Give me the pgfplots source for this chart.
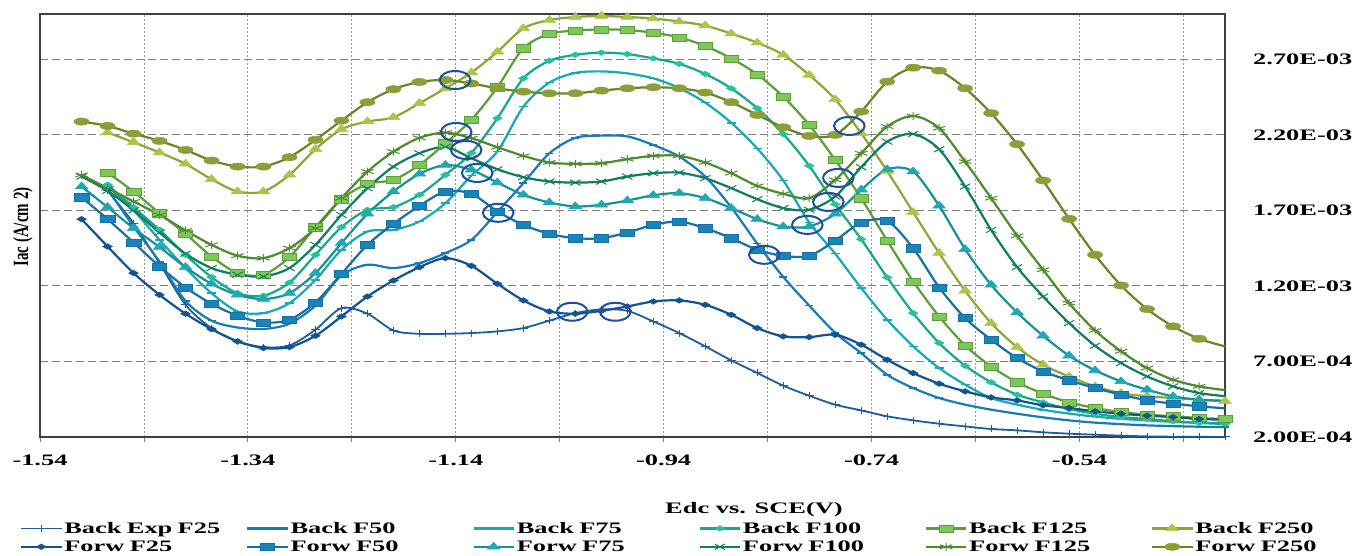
\documentclass[border=0pt]{standalone}
\usepackage{fontspec}
\setmainfont{Liberation Serif}[FakeStretch=1.65]
\newfontfamily\plainserif{Liberation Serif}
\usepackage{pgfplots}
\usepackage{pgfplotstable}
\pgfplotsset{compat=1.18}
\newcommand\lbl{\fontsize{16}{19}\selectfont\bfseries}
\definecolor{cBE}{HTML}{1F5C9E}
\definecolor{cB50}{HTML}{1A7AB5}
\definecolor{cB75}{HTML}{1AA8B8}
\definecolor{cB100}{HTML}{17A88A}
\definecolor{cB100m}{HTML}{22C49C}
\definecolor{cB125}{HTML}{5E9E3A}
\definecolor{cB125m}{HTML}{7CC95A}
\definecolor{cB250}{HTML}{8EA53A}
\definecolor{cB250m}{HTML}{A8C64A}
\definecolor{cF25}{HTML}{13538F}
\definecolor{cF50}{HTML}{176FA3}
\definecolor{cF50m}{HTML}{1784BB}
\definecolor{cF75}{HTML}{199098}
\definecolor{cF75m}{HTML}{1FA7B3}
\definecolor{cF100}{HTML}{0F7D5E}
\definecolor{cF125}{HTML}{4E8A2E}
\definecolor{cF250}{HTML}{6B8426}
\definecolor{cF250m}{HTML}{8C9E38}
\definecolor{cEll}{HTML}{1F4E9A}
\pgfplotstableread{
x BE B50 B75 B100 B125 B250 F25 F50 F75 F100 F125 F250
-1.500 nan nan nan nan nan nan 1.642e-3 1.787e-3 1.858e-3 1.924e-3 1.935e-3 2.288e-3
-1.475 1.83e-3 1.84e-3 1.86e-3 1.87e-3 1.95e-3 2.215e-3 1.461e-3 1.642e-3 1.721e-3 1.83e-3 1.847e-3 2.259e-3
-1.450 1.615e-3 1.593e-3 1.70e-3 1.72e-3 1.825e-3 2.151e-3 1.285e-3 1.487e-3 1.582e-3 1.70e-3 1.759e-3 2.208e-3
-1.425 1.35e-3 1.36e-3 1.505e-3 1.571e-3 1.681e-3 2.083e-3 1.141e-3 1.329e-3 1.457e-3 1.553e-3 1.67e-3 2.16e-3
-1.400 1.075e-3 1.10e-3 1.318e-3 1.406e-3 1.545e-3 2.008e-3 1.016e-3 1.19e-3 1.324e-3 1.413e-3 1.567e-3 2.10e-3
-1.375 0.92e-3 0.97e-3 1.152e-3 1.258e-3 1.395e-3 1.906e-3 0.914e-3 1.082e-3 1.214e-3 1.318e-3 1.472e-3 2.03e-3
-1.350 0.833e-3 0.925e-3 1.031e-3 1.152e-3 1.285e-3 1.825e-3 0.833e-3 1.003e-3 1.141e-3 1.274e-3 1.40e-3 1.99e-3
-1.325 0.795e-3 0.915e-3 1.02e-3 1.135e-3 1.274e-3 1.825e-3 0.789e-3 0.958e-3 1.113e-3 1.263e-3 1.384e-3 1.99e-3
-1.300 0.806e-3 0.95e-3 1.086e-3 1.222e-3 1.391e-3 1.935e-3 0.795e-3 0.976e-3 1.152e-3 1.318e-3 1.45e-3 2.052e-3
-1.275 0.91e-3 1.07e-3 1.24e-3 1.406e-3 1.589e-3 2.105e-3 0.87e-3 1.091e-3 1.285e-3 1.472e-3 1.582e-3 2.167e-3
-1.250 1.053e-3 1.27e-3 1.439e-3 1.589e-3 1.774e-3 2.237e-3 0.998e-3 1.28e-3 1.483e-3 1.67e-3 1.781e-3 2.294e-3
-1.225 1.016e-3 1.34e-3 1.56e-3 1.703e-3 1.875e-3 2.288e-3 1.13e-3 1.472e-3 1.677e-3 1.847e-3 1.957e-3 2.416e-3
-1.200 0.905e-3 1.318e-3 1.571e-3 1.721e-3 1.902e-3 2.316e-3 1.236e-3 1.611e-3 1.825e-3 1.99e-3 2.089e-3 2.502e-3
-1.175 0.883e-3 1.351e-3 1.626e-3 1.803e-3 2.001e-3 2.409e-3 1.324e-3 1.73e-3 1.942e-3 2.078e-3 2.18e-3 2.55e-3
-1.150 0.883e-3 1.417e-3 1.748e-3 1.935e-3 2.144e-3 2.508e-3 1.384e-3 1.825e-3 2.0e-3 2.12e-3 2.215e-3 2.563e-3
-1.125 0.888e-3 1.505e-3 1.93e-3 2.08e-3 2.299e-3 2.612e-3 1.333e-3 1.81e-3 1.968e-3 2.045e-3 2.178e-3 2.54e-3
-1.100 0.899e-3 1.69e-3 2.09e-3 2.31e-3 2.515e-3 2.75e-3 1.214e-3 1.693e-3 1.884e-3 1.972e-3 2.118e-3 2.508e-3
-1.075 0.921e-3 1.88e-3 2.387e-3 2.574e-3 2.773e-3 2.905e-3 1.104e-3 1.604e-3 1.803e-3 1.92e-3 2.061e-3 2.486e-3
-1.050 0.97e-3 2.078e-3 2.546e-3 2.69e-3 2.868e-3 2.96e-3 1.031e-3 1.545e-3 1.752e-3 1.891e-3 2.017e-3 2.475e-3
-1.025 1.02e-3 2.18e-3 2.61e-3 2.73e-3 2.89e-3 2.98e-3 1.016e-3 1.516e-3 1.726e-3 1.884e-3 2.008e-3 2.475e-3
-1.000 1.045e-3 2.195e-3 2.62e-3 2.744e-3 2.898e-3 2.987e-3 1.035e-3 1.516e-3 1.737e-3 1.891e-3 2.012e-3 2.493e-3
-0.975 1.035e-3 2.19e-3 2.607e-3 2.735e-3 2.894e-3 2.98e-3 1.064e-3 1.553e-3 1.765e-3 1.924e-3 2.039e-3 2.508e-3
-0.950 0.965e-3 2.133e-3 2.574e-3 2.706e-3 2.876e-3 2.97e-3 1.097e-3 1.604e-3 1.80e-3 1.946e-3 2.061e-3 2.515e-3
-0.925 0.888e-3 2.056e-3 2.51e-3 2.67e-3 2.845e-3 2.95e-3 1.104e-3 1.626e-3 1.814e-3 1.95e-3 2.061e-3 2.508e-3
-0.900 0.80e-3 1.924e-3 2.413e-3 2.603e-3 2.788e-3 2.923e-3 1.075e-3 1.582e-3 1.781e-3 1.913e-3 2.017e-3 2.48e-3
-0.875 0.707e-3 1.72e-3 2.28e-3 2.508e-3 2.706e-3 2.87e-3 1.009e-3 1.516e-3 1.715e-3 1.847e-3 1.946e-3 2.416e-3
-0.850 0.624e-3 1.48e-3 2.11e-3 2.376e-3 2.60e-3 2.81e-3 0.921e-3 1.439e-3 1.642e-3 1.774e-3 1.862e-3 2.332e-3
-0.825 0.54e-3 1.26e-3 1.898e-3 2.206e-3 2.453e-3 2.73e-3 0.866e-3 1.399e-3 1.593e-3 1.715e-3 1.81e-3 2.25e-3
-0.800 0.473e-3 1.07e-3 1.62e-3 1.995e-3 2.266e-3 2.596e-3 0.861e-3 1.399e-3 1.593e-3 1.704e-3 1.781e-3 2.193e-3
-0.775 0.414e-3 0.89e-3 1.413e-3 1.74e-3 2.034e-3 2.435e-3 0.877e-3 1.50e-3 1.677e-3 1.792e-3 1.902e-3 2.20e-3
-0.750 0.376e-3 0.755e-3 1.186e-3 1.509e-3 1.78e-3 2.21e-3 0.811e-3 1.619e-3 1.836e-3 1.986e-3 2.078e-3 2.354e-3
-0.725 0.337e-3 0.612e-3 0.976e-3 1.256e-3 1.50e-3 1.96e-3 0.711e-3 1.63e-3 1.972e-3 2.155e-3 2.255e-3 2.552e-3
-0.700 0.31e-3 0.524e-3 0.80e-3 1.02e-3 1.23e-3 1.688e-3 0.623e-3 1.45e-3 1.957e-3 2.206e-3 2.325e-3 2.645e-3
-0.675 0.288e-3 0.458e-3 0.656e-3 0.822e-3 0.998e-3 1.417e-3 0.553e-3 1.19e-3 1.73e-3 2.105e-3 2.244e-3 2.625e-3
-0.650 0.27e-3 0.414e-3 0.546e-3 0.672e-3 0.806e-3 1.168e-3 0.502e-3 0.987e-3 1.443e-3 1.858e-3 2.023e-3 2.508e-3
-0.625 0.253e-3 0.381e-3 0.458e-3 0.562e-3 0.667e-3 0.954e-3 0.462e-3 0.844e-3 1.207e-3 1.571e-3 1.781e-3 2.343e-3
-0.600 0.244e-3 0.354e-3 0.414e-3 0.48e-3 0.562e-3 0.795e-3 0.442e-3 0.722e-3 1.024e-3 1.324e-3 1.532e-3 2.138e-3
-0.575 0.231e-3 0.33e-3 0.38e-3 0.429e-3 0.487e-3 0.678e-3 0.41e-3 0.634e-3 0.87e-3 1.13e-3 1.307e-3 1.898e-3
-0.550 0.222e-3 0.31e-3 0.355e-3 0.385e-3 0.429e-3 0.60e-3 0.392e-3 0.575e-3 0.738e-3 0.954e-3 1.086e-3 1.644e-3
-0.525 0.215e-3 0.295e-3 0.335e-3 0.354e-3 0.392e-3 0.535e-3 0.37e-3 0.524e-3 0.641e-3 0.804e-3 0.905e-3 1.406e-3
-0.500 0.209e-3 0.285e-3 0.32e-3 0.332e-3 0.365e-3 0.49e-3 0.354e-3 0.48e-3 0.568e-3 0.689e-3 0.767e-3 1.203e-3
-0.475 0.204e-3 0.277e-3 0.31e-3 0.319e-3 0.348e-3 0.47e-3 0.341e-3 0.443e-3 0.513e-3 0.601e-3 0.656e-3 1.047e-3
-0.450 0.202e-3 0.272e-3 0.30e-3 0.304e-3 0.337e-3 0.458e-3 0.332e-3 0.421e-3 0.469e-3 0.535e-3 0.579e-3 0.932e-3
-0.425 0.201e-3 0.268e-3 0.295e-3 0.293e-3 0.326e-3 0.447e-3 0.319e-3 0.403e-3 0.447e-3 0.491e-3 0.535e-3 0.85e-3
-0.400 0.20e-3 0.265e-3 0.29e-3 0.286e-3 0.319e-3 0.436e-3 0.315e-3 0.39e-3 0.44e-3 0.47e-3 0.51e-3 0.80e-3
}\data
\begin{document}
\begin{tikzpicture}[font=\lbl]
\useasboundingbox (0,0) rectangle (1355pt,556pt);
\begin{axis}[
  at={(40pt,119pt)}, anchor=south west,
  scale only axis, width=1185pt, height=423pt,
  xmin=-1.54, xmax=-0.40, ymin=0.0002, ymax=0.003,
  scaled y ticks=false, scaled x ticks=false,
  xtick={-1.54,-1.44,-1.34,-1.24,-1.14,-1.04,-0.94,-0.84,-0.74,-0.64,-0.54,-0.44},
  xticklabels={-1.54,,-1.34,,-1.14,,-0.94,,-0.74,,-0.54,},
  ytick={0.0002,0.0007,0.0012,0.0017,0.0022,0.0027},
  yticklabels={2.00E-04,7.00E-04,1.20E-03,1.70E-03,2.20E-03,2.70E-03},
  yticklabel pos=right,
  xtick pos=bottom, tick align=outside,
  major tick length=5pt,
  xtick style={draw=gray, line width=0.8pt},
  ytick style={draw=none},
  tick label style={font=\lbl},
  xticklabel style={anchor=center, yshift=-18pt},
  yticklabel style={anchor=west, inner sep=0pt, xshift=23pt},
  grid=major,
  x grid style={gray!80, dash pattern=on 2pt off 2pt, line width=0.8pt},
  y grid style={gray, dash pattern=on 8pt off 4pt, line width=1.1pt},
  axis line style={draw=black!75, line width=1.6pt},
  xlabel={Edc vs. SCE(V)},
  xlabel style={at={(axis description cs:0.6025,-0.172)}, anchor=center, font=\lbl},
  legend columns=6,
  legend cell align=left,
  legend style={at={(axis description cs:-0.0169,-0.196)}, anchor=north west,
    draw=none, fill=none, font=\lbl, inner sep=0pt, row sep=2pt,
    /tikz/every even column/.append style={text width=180pt}},
  legend image code/.code={\draw[#1, mark indices={2}] plot coordinates {(0pt,0pt) (20pt,0pt) (40pt,0pt)};},
  every axis plot/.append style={smooth, tension=0.5, line width=2.2pt},
]
% Back series
\addplot[color=cBE, line width=1.8pt, mark=+, mark size=3.5pt, mark options={xscale=1.3, line width=1pt}] table[x=x, y=BE] {\data};
\addlegendentry{Back Exp F25}
\addplot[color=cB50, mark=-, mark size=4pt, mark options={line width=1.5pt}] table[x=x, y=B50] {\data};
\addlegendentry{Back F50}
\addplot[color=cB75, mark=-, mark size=4.5pt, mark options={line width=1.5pt}] table[x=x, y=B75] {\data};
\addlegendentry{Back F75}
\addplot[color=cB100, mark=diamond*, mark size=2.8pt, mark options={fill=cB100m, draw=cB100m, xscale=2.3, line width=0.5pt}] table[x=x, y=B100] {\data};
\addlegendentry{Back F100}
\addplot[color=cB125, mark=square*, mark size=3.6pt, mark options={fill=cB125m, draw=cB125, xscale=2, line width=0.5pt}] table[x=x, y=B125] {\data};
\addlegendentry{Back F125}
\addplot[color=cB250, mark=triangle*, mark size=4.6pt, mark options={fill=cB250m, draw=cB250m, xscale=1.6, line width=0.5pt}] table[x=x, y=B250] {\data};
\addlegendentry{Back F250}
% Forward series
\addplot[color=cF25, mark=diamond*, mark size=2.8pt, mark indices={1,...,44}, mark options={fill=cF25, xscale=2.3, line width=0.5pt}] table[x=x, y=F25] {\data};
\addlegendentry{Forw F25}
\addplot[color=cF50, mark=square*, mark size=3.6pt, mark indices={1,...,44}, mark options={fill=cF50m, draw=cF50, xscale=2, line width=0.5pt}] table[x=x, y=F50] {\data};
\addlegendentry{Forw F50}
\addplot[color=cF75, mark=triangle*, mark size=4.6pt, mark indices={1,...,44}, mark options={fill=cF75m, draw=cF75m, xscale=1.6, line width=0.5pt}] table[x=x, y=F75] {\data};
\addlegendentry{Forw F75}
\addplot[color=cF100, mark=x, mark size=4pt, mark indices={1,...,44}, mark options={xscale=1.8, line width=1pt}] table[x=x, y=F100] {\data};
\addlegendentry{Forw F100}
\addplot[color=cF125, mark=asterisk, mark size=4pt, mark indices={1,...,44}, mark options={xscale=1.8, line width=1pt}] table[x=x, y=F125] {\data};
\addlegendentry{Forw F125}
\addplot[color=cF250, mark=*, mark size=3.6pt, mark indices={1,...,44}, mark options={fill=cF250m, draw=cF250m, xscale=2.1, line width=0.5pt}] table[x=x, y=F250] {\data};
\addlegendentry{Forw F250}
% crossing markers
\addplot[forget plot, mark=o, mark size=9pt, mark options={draw=cEll, xscale=1.7, line width=2pt}, only marks] coordinates {
(-1.1406,2.563e-3) (-1.1396,2.219e-3) (-1.1300,2.100e-3) (-1.1194,1.948e-3) (-1.0992,1.684e-3)
(-1.0280,1.029e-3) (-0.9866,1.029e-3) (-0.8432,1.406e-3) (-0.8018,1.604e-3) (-0.7816,1.756e-3)
(-0.7720,1.915e-3) (-0.7614,2.259e-3)};
\end{axis}
\node[inner sep=0pt] at (23pt,329pt) {\scalebox{1.45}[1]{\rotatebox{90}{\plainserif\bfseries\fontsize{15}{18}\selectfont Iac (A/cm 2)}}};
\end{tikzpicture}
\end{document}
